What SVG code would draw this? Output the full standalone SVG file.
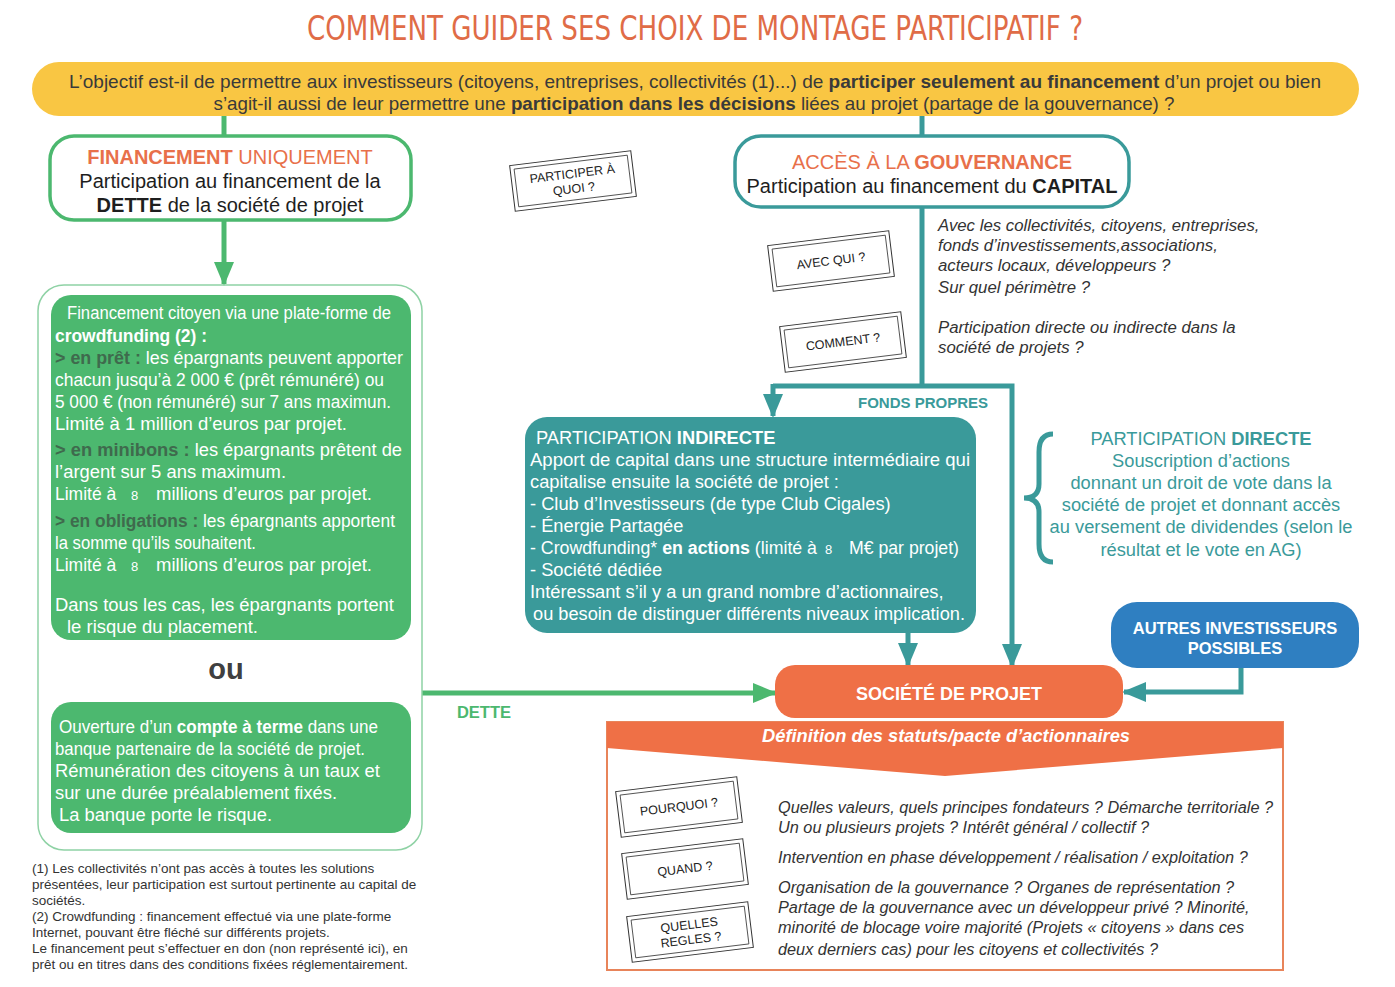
<svg xmlns="http://www.w3.org/2000/svg" width="1395" height="987" viewBox="0 0 1395 987">
<defs>
<style>
text{font-family:"Liberation Sans",Arial,sans-serif;}
.title{font-family:"Liberation Sans Narrow","DejaVu Sans Condensed","Liberation Sans",sans-serif;font-size:34px;fill:#e06c47;}
.ban{font-size:18.5px;fill:#3a3a3a;}
.b{font-weight:bold;}
.hd{font-size:20px;fill:#1e1e1e;}
.or{fill:#e8704a;}
.gw{font-size:17.5px;fill:#ffffff;}
.dk{fill:#3f6a4d;font-weight:bold;}
.tw{font-size:18.3px;fill:#ffffff;}
.small8{font-size:13px;}
.it{font-size:16.8px;fill:#333333;font-style:italic;}
.it2{font-size:16.3px;fill:#333333;font-style:italic;}
.fn{font-size:13.5px;fill:#333333;}
.td{font-size:18.3px;fill:#3a9a9a;}
.stamp text{font-size:12.5px;fill:#222;}
.stamp .o{fill:#fff;stroke:#333;stroke-width:1;}
.stamp .i{fill:none;stroke:#333;stroke-width:0.8;}
.cg{fill:none;stroke:#4cb86f;stroke-width:5;}
.ct{fill:none;stroke:#3a9a9a;stroke-width:5;}
</style>
<marker id="ag" markerUnits="userSpaceOnUse" markerWidth="24" markerHeight="20" refX="22" refY="10" orient="auto"><path d="M0,0 L24,10 L0,20 z" fill="#4cb86f"/></marker>
<marker id="at" markerUnits="userSpaceOnUse" markerWidth="24" markerHeight="20" refX="22" refY="10" orient="auto"><path d="M0,0 L24,10 L0,20 z" fill="#3a9a9a"/></marker>
</defs>
<rect width="1395" height="987" fill="#ffffff"/>

<text class="title" x="695" y="40" text-anchor="middle" textLength="776" lengthAdjust="spacingAndGlyphs">COMMENT GUIDER SES CHOIX DE MONTAGE PARTICIPATIF ?</text>

<g id="banner">
<rect x="32" y="62" width="1327" height="54" rx="27" fill="#f9c643"/>
<text class="ban" x="695" y="88" text-anchor="middle" textLength="1252" lengthAdjust="spacingAndGlyphs">L’objectif est-il de permettre aux investisseurs (citoyens, entreprises, collectivités (1)...) de <tspan class="b">participer seulement au financement</tspan> d’un projet ou bien</text>
<text class="ban" x="694" y="110" text-anchor="middle" textLength="961" lengthAdjust="spacingAndGlyphs">s’agit-il aussi de leur permettre une <tspan class="b">participation dans les décisions</tspan> liées au projet (partage de la gouvernance) ?</text>
</g>

<g id="connectors">
<line class="cg" x1="224" y1="116" x2="224" y2="137"/>
<line class="cg" x1="224" y1="220" x2="224" y2="284" marker-end="url(#ag)"/>
<line class="cg" x1="422" y1="693" x2="775" y2="693" marker-end="url(#ag)"/>
<line class="ct" x1="922" y1="116" x2="922" y2="137"/>
<polyline class="ct" points="922,207 922,386"/>
<polyline class="ct" points="773,386 1012,386 1012,666" marker-end="url(#at)"/>
<line class="ct" x1="773" y1="384" x2="773" y2="416" marker-end="url(#at)"/>
<line class="ct" x1="908" y1="633" x2="908" y2="665" marker-end="url(#at)"/>
<polyline class="ct" points="1241,668 1241,692 1124,692" marker-end="url(#at)"/>
<text x="923" y="408" text-anchor="middle" font-size="15" font-weight="bold" fill="#3a9a9a" textLength="130" lengthAdjust="spacingAndGlyphs">FONDS PROPRES</text>
<text x="484" y="718" text-anchor="middle" font-size="16.5" font-weight="bold" fill="#4cb86f">DETTE</text>
</g>

<g id="financement">
<rect x="50" y="136" width="361" height="84" rx="24" fill="#fff" stroke="#4cb86f" stroke-width="3.5"/>
<text class="hd" x="230" y="164" text-anchor="middle"><tspan class="or b">FINANCEMENT</tspan><tspan class="or"> UNIQUEMENT</tspan></text>
<text class="hd" x="230" y="188" text-anchor="middle">Participation au financement de la</text>
<text class="hd" x="230" y="212" text-anchor="middle"><tspan class="b">DETTE</tspan> de la société de projet</text>
</g>

<g id="gouvernance">
<rect x="735" y="136" width="394" height="71" rx="26" fill="#fff" stroke="#3a9a9a" stroke-width="3.5"/>
<text class="hd" x="932" y="169" text-anchor="middle"><tspan class="or">ACCÈS À LA </tspan><tspan class="or b">GOUVERNANCE</tspan></text>
<text class="hd" x="932" y="193" text-anchor="middle">Participation au financement du <tspan class="b">CAPITAL</tspan></text>
</g>

<g id="dette-options">
<rect x="38" y="285" width="384" height="565" rx="26" fill="none" stroke="#8fd2a5" stroke-width="1.5"/>
<g id="crowdfunding">
<rect x="51" y="295" width="360" height="345" rx="20" fill="#4cb86f"/>
<text class="gw" x="67" y="319" textLength="324" lengthAdjust="spacingAndGlyphs">Financement citoyen via une plate-forme de</text>
<text class="gw b" x="55" y="342" textLength="152" lengthAdjust="spacingAndGlyphs">crowdfunding (2) :</text>
<text class="gw" x="55" y="364" textLength="348" lengthAdjust="spacingAndGlyphs"><tspan class="dk">&gt; en prêt :</tspan>  les épargnants peuvent apporter</text>
<text class="gw" x="55" y="386" textLength="329" lengthAdjust="spacingAndGlyphs">chacun jusqu’à 2 000 € (prêt rémunéré) ou</text>
<text class="gw" x="55" y="408" textLength="336" lengthAdjust="spacingAndGlyphs">5 000 € (non rémunéré) sur 7 ans maximun.</text>
<text class="gw" x="55" y="430" textLength="292" lengthAdjust="spacingAndGlyphs">Limité à 1 million d’euros par projet.</text>
<text class="gw" x="55" y="456" textLength="347" lengthAdjust="spacingAndGlyphs"><tspan class="dk">&gt; en minibons :</tspan> les épargnants prêtent de</text>
<text class="gw" x="55" y="478" textLength="231" lengthAdjust="spacingAndGlyphs">l’argent sur 5 ans maximum.</text>
<text class="gw" x="55" y="500">Limité à <tspan class="small8" x="131">8</tspan><tspan x="156" textLength="216" lengthAdjust="spacingAndGlyphs">millions d’euros par projet.</tspan></text>
<text class="gw" x="55" y="527" textLength="340" lengthAdjust="spacingAndGlyphs"><tspan class="dk">&gt; en obligations :</tspan> les épargnants apportent</text>
<text class="gw" x="55" y="549" textLength="201" lengthAdjust="spacingAndGlyphs">la somme qu’ils souhaitent.</text>
<text class="gw" x="55" y="571">Limité à <tspan class="small8" x="131">8</tspan><tspan x="156" textLength="216" lengthAdjust="spacingAndGlyphs">millions d’euros par projet.</tspan></text>
<text class="gw" x="55" y="611" textLength="339" lengthAdjust="spacingAndGlyphs">Dans tous les cas, les épargnants portent</text>
<text class="gw" x="67" y="633" textLength="191" lengthAdjust="spacingAndGlyphs">le risque du placement.</text>
</g>
<text x="226" y="679" text-anchor="middle" font-size="29" font-weight="bold" fill="#404040">ou</text>
<g id="compte-terme">
<rect x="51" y="702" width="360" height="131" rx="20" fill="#4cb86f"/>
<text class="gw" x="59" y="733" textLength="319" lengthAdjust="spacingAndGlyphs">Ouverture d’un <tspan class="b">compte à terme</tspan> dans une</text>
<text class="gw" x="55" y="755" textLength="310" lengthAdjust="spacingAndGlyphs">banque partenaire de la société de projet.</text>
<text class="gw" x="55" y="777" textLength="325" lengthAdjust="spacingAndGlyphs">Rémunération des citoyens à un taux et</text>
<text class="gw" x="55" y="799" textLength="282" lengthAdjust="spacingAndGlyphs">sur une durée préalablement fixés.</text>
<text class="gw" x="59" y="821" textLength="213" lengthAdjust="spacingAndGlyphs">La banque porte le risque.</text>
</g>
</g>

<g id="footnotes">
<text class="fn" x="32" y="873">(1) Les collectivités n’ont pas accès à toutes les solutions</text>
<text class="fn" x="32" y="889">présentées, leur participation est surtout pertinente au capital de</text>
<text class="fn" x="32" y="905">sociétés.</text>
<text class="fn" x="32" y="921">(2) Crowdfunding : financement effectué via une plate-forme</text>
<text class="fn" x="32" y="937">Internet, pouvant être fléché sur différents projets.</text>
<text class="fn" x="32" y="953">Le financement peut s’effectuer en don (non représenté ici), en</text>
<text class="fn" x="32" y="969">prêt ou en titres dans des conditions fixées réglementairement.</text>
</g>

<g id="stamp-quoi" class="stamp" transform="translate(573,181) rotate(-7)">
<rect class="o" x="-61" y="-23" width="122" height="46"/>
<rect class="i" x="-57" y="-19" width="114" height="38"/>
<text x="0" y="-3" text-anchor="middle">PARTICIPER À</text>
<text x="0" y="12" text-anchor="middle">QUOI ?</text>
</g>
<g id="stamp-qui" class="stamp" transform="translate(831,261) rotate(-7)">
<rect class="o" x="-61" y="-23" width="122" height="46"/>
<rect class="i" x="-57" y="-19" width="114" height="38"/>
<text x="0" y="4" text-anchor="middle">AVEC QUI ?</text>
</g>
<g id="stamp-comment" class="stamp" transform="translate(843,342) rotate(-7)">
<rect class="o" x="-61" y="-23" width="122" height="46"/>
<rect class="i" x="-57" y="-19" width="114" height="38"/>
<text x="0" y="4" text-anchor="middle">COMMENT ?</text>
</g>

<g id="questions-capital">
<text class="it" x="938" y="231">Avec les collectivités, citoyens, entreprises,</text>
<text class="it" x="938" y="251">fonds d’investissements,associations,</text>
<text class="it" x="938" y="271">acteurs locaux, développeurs ?</text>
<text class="it" x="938" y="293">Sur quel périmètre ?</text>
<text class="it" x="938" y="333">Participation directe ou indirecte dans la</text>
<text class="it" x="938" y="353">société de projets ?</text>
</g>

<g id="indirecte">
<rect x="525" y="417" width="451" height="216" rx="22" fill="#3a9a9a"/>
<text class="tw" x="536" y="444">PARTICIPATION <tspan class="b">INDIRECTE</tspan></text>
<text class="tw" x="530" y="466" textLength="440" lengthAdjust="spacingAndGlyphs">Apport de capital dans une structure intermédiaire qui</text>
<text class="tw" x="530" y="488">capitalise ensuite la société de projet :</text>
<text class="tw" x="530" y="510">- Club d’Investisseurs (de type Club Cigales)</text>
<text class="tw" x="530" y="532">- Énergie Partagée</text>
<text class="tw" x="530" y="554" textLength="287" lengthAdjust="spacingAndGlyphs">- Crowdfunding* <tspan class="b">en actions</tspan> (limité à</text>
<text class="tw small8" x="825" y="554">8</text>
<text class="tw" x="849" y="554" textLength="110" lengthAdjust="spacingAndGlyphs">M€ par projet)</text>
<text class="tw" x="530" y="576">- Société dédiée</text>
<text class="tw" x="530" y="598">Intéressant s’il y a un grand nombre d’actionnaires,</text>
<text class="tw" x="533" y="620" textLength="432" lengthAdjust="spacingAndGlyphs">ou besoin de distinguer différents niveaux implication.</text>
</g>

<g id="directe">
<path d="M1053,434 Q1039,434 1039,452 L1039,484 Q1039,498 1024,498 Q1039,498 1039,512 L1039,544 Q1039,562 1053,562" fill="none" stroke="#3a9a9a" stroke-width="5"/>
<text class="td" x="1201" y="445" text-anchor="middle">PARTICIPATION <tspan class="b">DIRECTE</tspan></text>
<text class="td" x="1201" y="467" text-anchor="middle">Souscription d’actions</text>
<text class="td" x="1201" y="489" text-anchor="middle">donnant un droit de vote dans la</text>
<text class="td" x="1201" y="511" text-anchor="middle">société de projet et donnant accès</text>
<text class="td" x="1201" y="533" text-anchor="middle">au versement de dividendes (selon le</text>
<text class="td" x="1201" y="556" text-anchor="middle">résultat et le vote en AG)</text>
</g>

<g id="autres">
<rect x="1111" y="602" width="248" height="66" rx="26" fill="#2f7fc1"/>
<text x="1235" y="634" text-anchor="middle" font-size="16.5" font-weight="bold" fill="#fff">AUTRES INVESTISSEURS</text>
<text x="1235" y="654" text-anchor="middle" font-size="16.5" font-weight="bold" fill="#fff">POSSIBLES</text>
</g>

<g id="societe">
<rect x="775" y="665" width="348" height="53" rx="20" fill="#ef7046"/>
<text x="949" y="700" text-anchor="middle" font-size="18" font-weight="bold" fill="#fff">SOCIÉTÉ DE PROJET</text>
</g>

<g id="definition">
<rect x="607" y="722" width="676" height="248" fill="none" stroke="#e8845a" stroke-width="2"/>
<path d="M607,722 L1283,722 L1283,748 L945,776 L607,748 z" fill="#ef7046"/>
<text x="946" y="742" text-anchor="middle" font-size="18" font-weight="bold" font-style="italic" fill="#fff" textLength="368" lengthAdjust="spacingAndGlyphs">Définition des statuts/pacte d’actionnaires</text>
<text class="it2" x="778" y="813">Quelles valeurs, quels principes fondateurs ?  Démarche territoriale ?</text>
<text class="it2" x="778" y="833">Un ou plusieurs projets ? Intérêt général / collectif ?</text>
<text class="it2" x="778" y="863">Intervention en phase développement / réalisation / exploitation ?</text>
<text class="it2" x="778" y="893">Organisation de la gouvernance ? Organes de représentation ?</text>
<text class="it2" x="778" y="913">Partage de la gouvernance avec un développeur privé ? Minorité,</text>
<text class="it2" x="778" y="933">minorité de blocage voire majorité (Projets « citoyens » dans ces</text>
<text class="it2" x="778" y="955">deux derniers cas) pour les citoyens et collectivités ?</text>
</g>

<g id="stamp-pourquoi" class="stamp" transform="translate(679,807) rotate(-7)">
<rect class="o" x="-61" y="-23" width="122" height="46"/>
<rect class="i" x="-57" y="-19" width="114" height="38"/>
<text x="0" y="4" text-anchor="middle">POURQUOI ?</text>
</g>
<g id="stamp-quand" class="stamp" transform="translate(685,869) rotate(-7)">
<rect class="o" x="-61" y="-23" width="122" height="46"/>
<rect class="i" x="-57" y="-19" width="114" height="38"/>
<text x="0" y="4" text-anchor="middle">QUAND ?</text>
</g>
<g id="stamp-regles" class="stamp" transform="translate(690,932) rotate(-7)">
<rect class="o" x="-61" y="-23" width="122" height="46"/>
<rect class="i" x="-57" y="-19" width="114" height="38"/>
<text x="0" y="-3" text-anchor="middle">QUELLES</text>
<text x="0" y="12" text-anchor="middle">REGLES ?</text>
</g>
</svg>
